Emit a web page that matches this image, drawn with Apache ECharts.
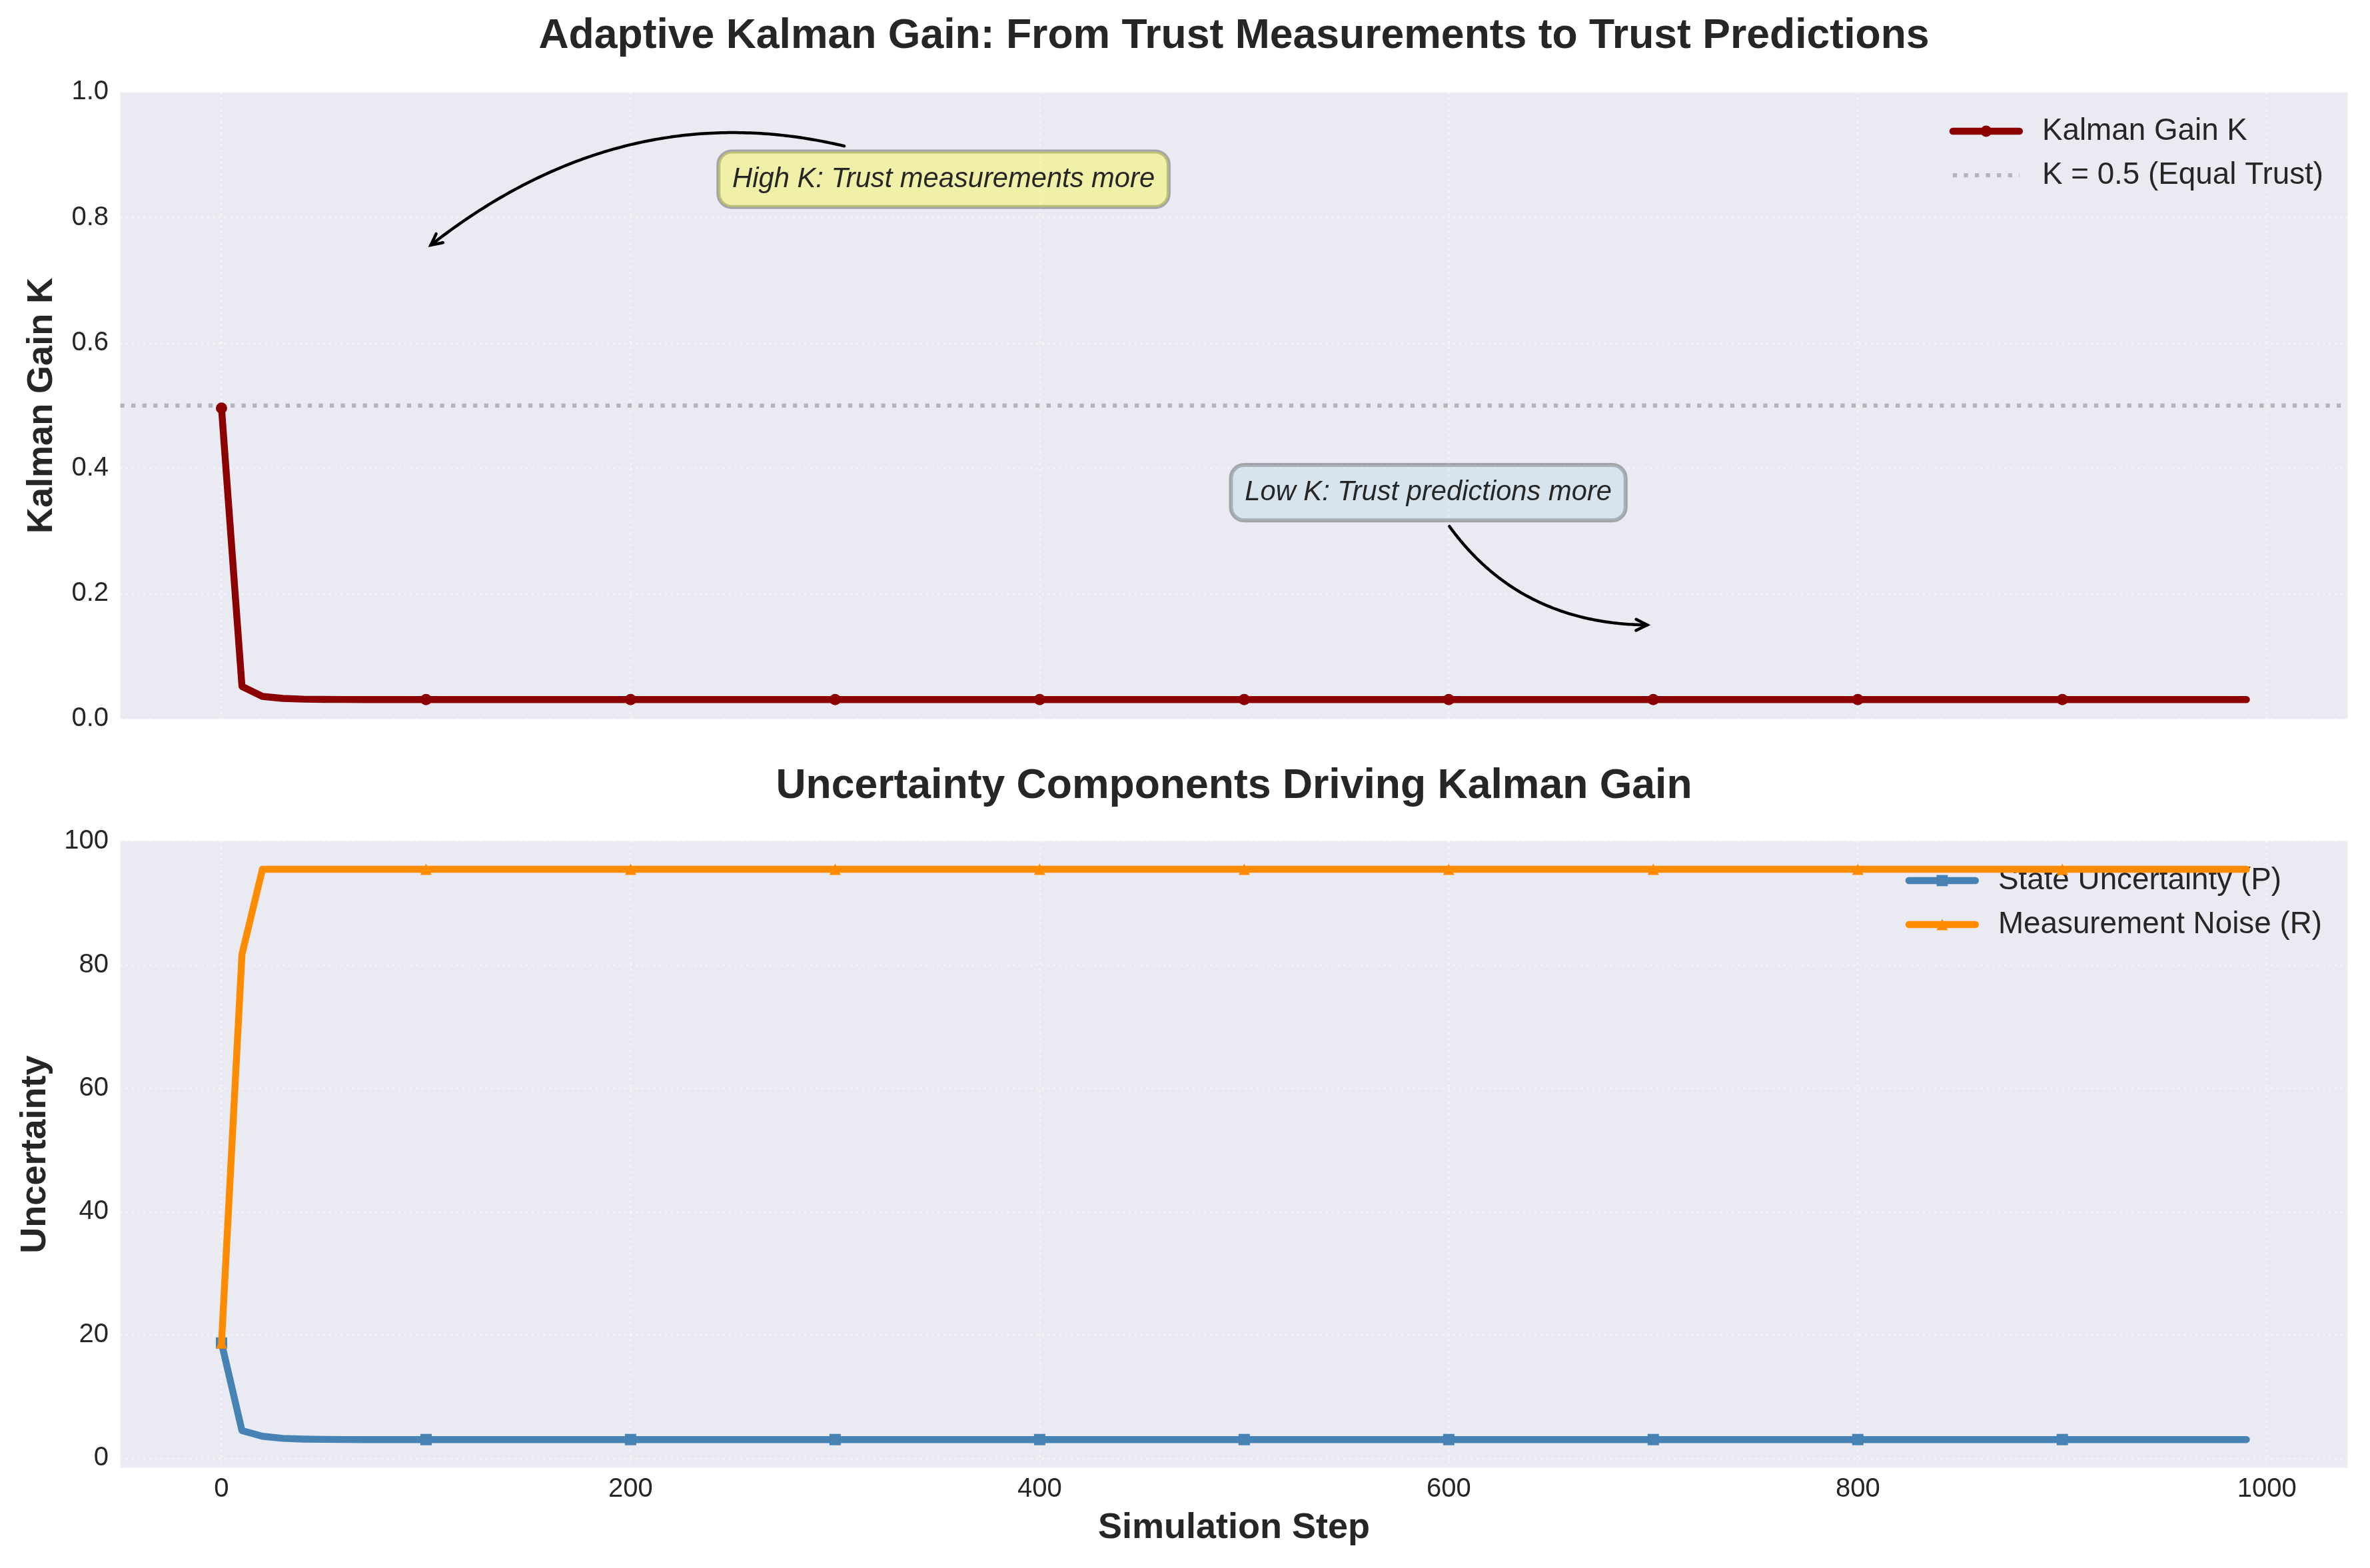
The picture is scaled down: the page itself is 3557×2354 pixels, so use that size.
<!DOCTYPE html>
<html>
<head>
<meta charset="utf-8">
<script src="https://cdn.jsdelivr.net/npm/echarts@6/dist/echarts.min.js"></script>
<style>
html,body{margin:0;padding:0;background:#ffffff;}
#chart{width:3557px;height:2354px;}
</style>
</head>
<body>
<div id="chart"></div>
<script>
// ---------------- data ----------------
const STEPS = [
  0, 10, 20, 30, 40, 50, 60, 70, 80, 90,
  100, 110, 120, 130, 140, 150, 160, 170, 180, 190,
  200, 210, 220, 230, 240, 250, 260, 270, 280, 290,
  300, 310, 320, 330, 340, 350, 360, 370, 380, 390,
  400, 410, 420, 430, 440, 450, 460, 470, 480, 490,
  500, 510, 520, 530, 540, 550, 560, 570, 580, 590,
  600, 610, 620, 630, 640, 650, 660, 670, 680, 690,
  700, 710, 720, 730, 740, 750, 760, 770, 780, 790,
  800, 810, 820, 830, 840, 850, 860, 870, 880, 890,
  900, 910, 920, 930, 940, 950, 960, 970, 980, 990
];
const KALMAN_GAIN = [
  0.496, 0.052, 0.036, 0.0328, 0.0316, 0.0312, 0.0311, 0.031, 0.031, 0.031,
  0.031, 0.031, 0.031, 0.031, 0.031, 0.031, 0.031, 0.031, 0.031, 0.031,
  0.031, 0.031, 0.031, 0.031, 0.031, 0.031, 0.031, 0.031, 0.031, 0.031,
  0.031, 0.031, 0.031, 0.031, 0.031, 0.031, 0.031, 0.031, 0.031, 0.031,
  0.031, 0.031, 0.031, 0.031, 0.031, 0.031, 0.031, 0.031, 0.031, 0.031,
  0.031, 0.031, 0.031, 0.031, 0.031, 0.031, 0.031, 0.031, 0.031, 0.031,
  0.031, 0.031, 0.031, 0.031, 0.031, 0.031, 0.031, 0.031, 0.031, 0.031,
  0.031, 0.031, 0.031, 0.031, 0.031, 0.031, 0.031, 0.031, 0.031, 0.031,
  0.031, 0.031, 0.031, 0.031, 0.031, 0.031, 0.031, 0.031, 0.031, 0.031,
  0.031, 0.031, 0.031, 0.031, 0.031, 0.031, 0.031, 0.031, 0.031, 0.031
];
const STATE_UNCERTAINTY = [
  18.7, 4.5, 3.58, 3.25, 3.13, 3.08, 3.06, 3.05, 3.05, 3.05,
  3.05, 3.05, 3.05, 3.05, 3.05, 3.05, 3.05, 3.05, 3.05, 3.05,
  3.05, 3.05, 3.05, 3.05, 3.05, 3.05, 3.05, 3.05, 3.05, 3.05,
  3.05, 3.05, 3.05, 3.05, 3.05, 3.05, 3.05, 3.05, 3.05, 3.05,
  3.05, 3.05, 3.05, 3.05, 3.05, 3.05, 3.05, 3.05, 3.05, 3.05,
  3.05, 3.05, 3.05, 3.05, 3.05, 3.05, 3.05, 3.05, 3.05, 3.05,
  3.05, 3.05, 3.05, 3.05, 3.05, 3.05, 3.05, 3.05, 3.05, 3.05,
  3.05, 3.05, 3.05, 3.05, 3.05, 3.05, 3.05, 3.05, 3.05, 3.05,
  3.05, 3.05, 3.05, 3.05, 3.05, 3.05, 3.05, 3.05, 3.05, 3.05,
  3.05, 3.05, 3.05, 3.05, 3.05, 3.05, 3.05, 3.05, 3.05, 3.05
];
const MEASUREMENT_NOISE = [
  18.7, 81.7, 95.5, 95.5, 95.5, 95.5, 95.5, 95.5, 95.5, 95.5,
  95.5, 95.5, 95.5, 95.5, 95.5, 95.5, 95.5, 95.5, 95.5, 95.5,
  95.5, 95.5, 95.5, 95.5, 95.5, 95.5, 95.5, 95.5, 95.5, 95.5,
  95.5, 95.5, 95.5, 95.5, 95.5, 95.5, 95.5, 95.5, 95.5, 95.5,
  95.5, 95.5, 95.5, 95.5, 95.5, 95.5, 95.5, 95.5, 95.5, 95.5,
  95.5, 95.5, 95.5, 95.5, 95.5, 95.5, 95.5, 95.5, 95.5, 95.5,
  95.5, 95.5, 95.5, 95.5, 95.5, 95.5, 95.5, 95.5, 95.5, 95.5,
  95.5, 95.5, 95.5, 95.5, 95.5, 95.5, 95.5, 95.5, 95.5, 95.5,
  95.5, 95.5, 95.5, 95.5, 95.5, 95.5, 95.5, 95.5, 95.5, 95.5,
  95.5, 95.5, 95.5, 95.5, 95.5, 95.5, 95.5, 95.5, 95.5, 95.5
];
const EQUAL_TRUST_K = 0.5;
const STEP_TICKS = [0, 200, 400, 600, 800, 1000];
const GAIN_TICKS = [0, 0.2, 0.4, 0.6, 0.8, 1.0];
const UNCERTAINTY_TICKS = [0, 20, 40, 60, 80, 100];
const SERIES_NAMES = ['Kalman Gain K', 'K = 0.5 (Equal Trust)', 'State Uncertainty (P)', 'Measurement Noise (R)'];
const TITLES = ['Adaptive Kalman Gain: From Trust Measurements to Trust Predictions', 'Uncertainty Components Driving Kalman Gain'];
const AXIS_NAMES = ['Simulation Step', 'Kalman Gain K', 'Uncertainty'];
const ANNOTATIONS = [
  { text: 'High K: Trust measurements more', textAt: [353, 0.861], pointAt: [100, 0.75], fill: 'rgba(255,255,0,0.3)' },
  { text: 'Low K: Trust predictions more', textAt: [590, 0.361], pointAt: [700, 0.15], fill: 'rgba(173,216,230,0.3)' }
];

// ---------------- style ----------------
const FONT = '"Liberation Sans", Arial, Helvetica, sans-serif';
const TEXT_COLOR = '#262626';
const X_MIN = -49.5, X_MAX = 1039.5;
const MARK_EVERY = 10;
const GRID_LEFT = 180.5, GRID_WIDTH = 3343;
const GRID_LINE = { color: 'rgba(255,255,255,0.55)', width: 2.7, type: [2.7, 6] };
const TICK_FONT = 40;
const LINE_W = 10.4;

function withMarkers(ys) {
  return STEPS.map((s, i) => (i % MARK_EVERY === 0) ? [s, ys[i]] : { value: [s, ys[i]], symbol: 'none' });
}

function xAxisCfg(gridIndex, showLabels) {
  const cfg = {
    gridIndex, type: 'value', min: X_MIN, max: X_MAX,
    axisLine: { show: false },
    axisTick: { show: false, customValues: STEP_TICKS },
    axisLabel: { show: showLabels, customValues: STEP_TICKS, fontSize: TICK_FONT, color: TEXT_COLOR, fontFamily: FONT, margin: 12.5, formatter: v => String(v) },
    splitLine: { show: true, lineStyle: GRID_LINE }
  };
  if (showLabels) {
    cfg.name = AXIS_NAMES[0];
    cfg.nameLocation = 'middle';
    cfg.nameGap = 64;
    cfg.nameTextStyle = { fontSize: 54, fontWeight: 'bold', color: TEXT_COLOR, fontFamily: FONT, lineHeight: 54 };
  }
  return cfg;
}

function yAxisCfg(gridIndex, min, max, ticks, name, nameGap, fmt) {
  return {
    gridIndex, type: 'value', min, max,
    axisLine: { show: false },
    axisTick: { show: false, customValues: ticks },
    axisLabel: { customValues: ticks, fontSize: TICK_FONT, color: TEXT_COLOR, fontFamily: FONT, margin: 17.5, formatter: fmt },
    splitLine: { show: true, lineStyle: GRID_LINE },
    name, nameLocation: 'middle', nameGap,
    nameTextStyle: { fontSize: 54, fontWeight: 'bold', color: TEXT_COLOR, fontFamily: FONT, lineHeight: 54 }
  };
}

const legendCommon = {
  orient: 'vertical', align: 'left', itemWidth: 100, itemHeight: 21, itemGap: 20, padding: 0,
  selectedMode: false,
  lineStyle: { width: LINE_W, cap: 'round' },
  textStyle: { fontSize: 45.8, lineHeight: 46, color: TEXT_COLOR, fontFamily: FONT, padding: [0, 0, 0, 29] }
};

const option = {
  animation: false,
  backgroundColor: '#ffffff',
  grid: [
    { left: GRID_LEFT, top: 138.4, width: GRID_WIDTH, height: 941, show: true, backgroundColor: '#EAEAF2', borderWidth: 0 },
    { left: GRID_LEFT, top: 1262.6, width: GRID_WIDTH, height: 941, show: true, backgroundColor: '#EAEAF2', borderWidth: 0 }
  ],
  xAxis: [xAxisCfg(0, false), xAxisCfg(1, true)],
  yAxis: [
    yAxisCfg(0, 0, 1, GAIN_TICKS, AXIS_NAMES[1], 90, v => v.toFixed(1)),
    yAxisCfg(1, -1.53, 100.08, UNCERTAINTY_TICKS, AXIS_NAMES[2], 100, v => String(Math.round(v)))
  ],
  legend: [
    Object.assign({}, legendCommon, {
      right: 70, top: 174,
      data: [
        { name: SERIES_NAMES[0] },
        { name: SERIES_NAMES[1], itemStyle: { opacity: 0 }, lineStyle: { width: 6.25, cap: 'butt' } }
      ]
    }),
    Object.assign({}, legendCommon, {
      right: 72, top: 1299,
      data: [{ name: SERIES_NAMES[2] }, { name: SERIES_NAMES[3] }]
    })
  ],
  series: [
    {
      name: SERIES_NAMES[1], type: 'line', xAxisIndex: 0, yAxisIndex: 0, z: 2,
      data: [[X_MIN, EQUAL_TRUST_K], [X_MAX, EQUAL_TRUST_K]],
      symbol: 'none', silent: true,
      itemStyle: { color: 'rgba(128,128,128,0.5)' },
      lineStyle: { color: 'rgba(128,128,128,0.5)', width: 6.25, type: [6.25, 10.3], cap: 'butt' }
    },
    {
      name: SERIES_NAMES[0], type: 'line', xAxisIndex: 0, yAxisIndex: 0, z: 3,
      data: withMarkers(KALMAN_GAIN),
      symbol: 'circle', symbolSize: 17, showSymbol: true,
      itemStyle: { color: '#8B0000' },
      lineStyle: { color: '#8B0000', width: LINE_W, cap: 'round', join: 'round' }
    },
    {
      name: SERIES_NAMES[2], type: 'line', xAxisIndex: 1, yAxisIndex: 1, z: 3,
      data: withMarkers(STATE_UNCERTAINTY),
      symbol: 'rect', symbolSize: 17, showSymbol: true,
      itemStyle: { color: '#4682B4' },
      lineStyle: { color: '#4682B4', width: LINE_W, cap: 'round', join: 'round' }
    },
    {
      name: SERIES_NAMES[3], type: 'line', xAxisIndex: 1, yAxisIndex: 1, z: 4,
      data: withMarkers(MEASUREMENT_NOISE),
      symbol: 'triangle', symbolSize: 17, showSymbol: true,
      itemStyle: { color: '#FF8C00' },
      lineStyle: { color: '#FF8C00', width: LINE_W, cap: 'round', join: 'round' }
    }
  ]
};

const chart = echarts.init(document.getElementById('chart'), null, { renderer: 'canvas', width: 3557, height: 2354 });
chart.setOption(option);

// ---------------- titles & annotations ----------------
const graphics = [];
const plotCenterX = GRID_LEFT + GRID_WIDTH / 2;
graphics.push({ type: 'text', x: plotCenterX, y: 54.3, z: 10, silent: true,
  style: { text: TITLES[0], font: 'bold 62.5px ' + FONT, fill: TEXT_COLOR, align: 'center', verticalAlign: 'middle' } });
graphics.push({ type: 'text', x: plotCenterX, y: 1180.3, z: 10, silent: true,
  style: { text: TITLES[1], font: 'bold 62.5px ' + FONT, fill: TEXT_COLOR, align: 'center', verticalAlign: 'middle' } });

const ANN_FONT_SIZE = 41.7, ANN_PAD = 20.8;
const measureCtx = document.createElement('canvas').getContext('2d');
ANNOTATIONS.forEach(a => {
  const S = chart.convertToPixel({ xAxisIndex: 0, yAxisIndex: 0 }, a.textAt);
  const E = chart.convertToPixel({ xAxisIndex: 0, yAxisIndex: 0 }, a.pointAt);
  const font = 'italic ' + ANN_FONT_SIZE + 'px ' + FONT;
  measureCtx.font = font;
  const w = measureCtx.measureText(a.text).width;
  const halfW = w / 2 + ANN_PAD + 2, halfH = ANN_FONT_SIZE / 2 + ANN_PAD + 2;
  // arc3, rad = 0.3 (computed in y-up display space)
  const rad = 0.3;
  const dx = E[0] - S[0], dy = E[1] - S[1];
  const mx = (S[0] + E[0]) / 2, my = (S[1] + E[1]) / 2;
  const C = [mx - rad * dy, my + rad * dx];
  const bez = t => [
    (1 - t) * (1 - t) * S[0] + 2 * t * (1 - t) * C[0] + t * t * E[0],
    (1 - t) * (1 - t) * S[1] + 2 * t * (1 - t) * C[1] + t * t * E[1]
  ];
  const N = 400;
  let t0 = 0, t1 = 1;
  for (let i = 0; i <= N; i++) {
    const p = bez(i / N);
    if (Math.abs(p[0] - S[0]) > halfW + 6 || Math.abs(p[1] - S[1]) > halfH + 6) { t0 = i / N; break; }
  }
  for (let i = N; i >= 0; i--) {
    const p = bez(i / N);
    if (Math.hypot(p[0] - E[0], p[1] - E[1]) >= 8.3) { t1 = i / N; break; }
  }
  const pts = [];
  for (let i = 0; i <= 120; i++) pts.push(bez(t0 + (t1 - t0) * i / 120));
  const tip = bez(t1);
  const der = [2 * (1 - t1) * (C[0] - S[0]) + 2 * t1 * (E[0] - C[0]), 2 * (1 - t1) * (C[1] - S[1]) + 2 * t1 * (E[1] - C[1])];
  const len = Math.hypot(der[0], der[1]);
  const ux = der[0] / len, uy = der[1] / len;
  const hl = 16.7, hw = 8.3;
  const w1 = [tip[0] - ux * hl - uy * hw, tip[1] - uy * hl + ux * hw];
  const w2 = [tip[0] - ux * hl + uy * hw, tip[1] - uy * hl - ux * hw];
  graphics.push({ type: 'polyline', z: 9, silent: true, shape: { points: pts },
    style: { stroke: '#000000', lineWidth: 4.5, fill: 'none', lineCap: 'round', lineJoin: 'round' } });
  graphics.push({ type: 'polyline', z: 9, silent: true, shape: { points: [w1, tip, w2] },
    style: { stroke: '#000000', lineWidth: 4.5, fill: 'none', lineCap: 'round', lineJoin: 'miter' } });
  graphics.push({ type: 'text', x: S[0], y: S[1], z: 10, silent: true,
    style: { text: a.text, font: font, fill: TEXT_COLOR, align: 'center', verticalAlign: 'middle',
      lineHeight: ANN_FONT_SIZE, backgroundColor: a.fill, borderColor: 'rgba(0,0,0,0.3)', borderWidth: 3,
      borderRadius: 20, padding: [ANN_PAD, ANN_PAD] } });
});
chart.setOption({ graphic: graphics });
</script>
</body>
</html>
